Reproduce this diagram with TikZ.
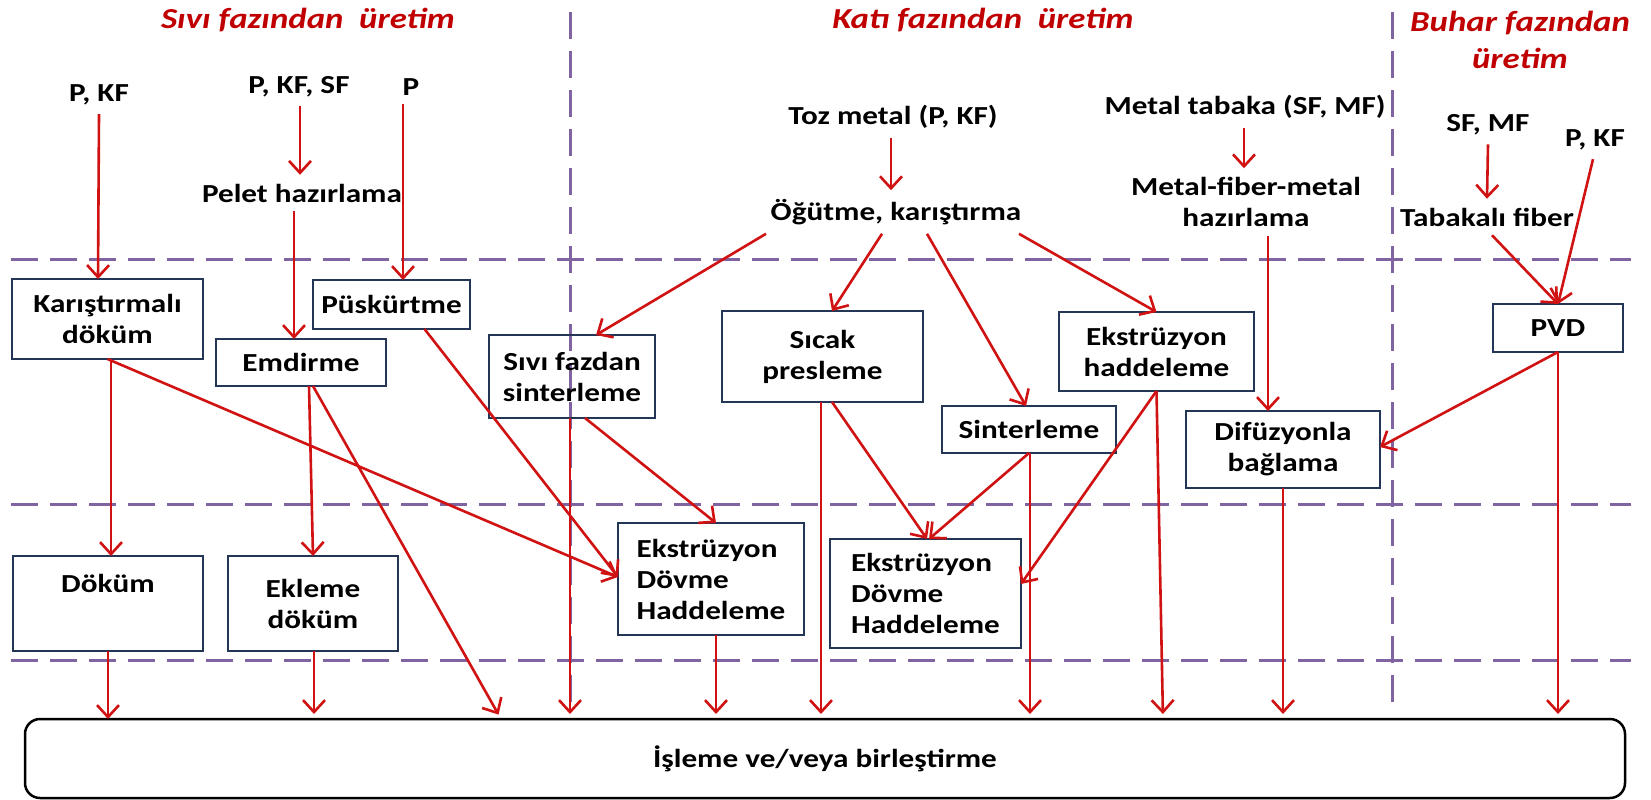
\documentclass[tikz,border=0pt]{standalone}
\usepackage{fontspec}
\setmainfont{Carlito}[FakeStretch=1.2]
\usetikzlibrary{arrows.meta, positioning}

\definecolor{arrred}{RGB}{208,18,18}
\definecolor{titred}{RGB}{192,0,0}
\definecolor{boxblue}{RGB}{36,54,86}
\definecolor{phasepurple}{RGB}{128,100,162}

\tikzset{
	lbl/.style={font=\fontsize{26}{31}\selectfont\bfseries, align=center, inner sep=3pt, outer sep=6pt},
	box/.style={lbl, draw=boxblue, line width=2.8pt, inner sep=4pt, outer sep=0pt},
	phasetitle/.style={font=\fontsize{29}{37}\selectfont\bfseries\itshape, text=titred, align=center},
	arr/.style={draw=arrred, line width=2.6pt, -{Straight Barb[length=12pt,width=22pt]}},
	toisl/.style={shorten >=5pt},
	phaseline/.style={draw=phasepurple, line width=3pt, dash pattern=on 27pt off 12pt},
}

\begin{document}
\begin{tikzpicture}[x=1pt, y=-1pt]
		
		\useasboundingbox (0,0) rectangle (1651,800);
		
		% phase separators
		\draw[phaseline] (11,259) -- (1631,259);
		\draw[phaseline] (11,504) -- (1631,504);
		\draw[phaseline] (11,660) -- (1631,660);
		\draw[phaseline] (570,12) -- (570,714);
		\draw[phaseline] (1392,12) -- (1392,714);
		
		\node[phasetitle] (tsivi) at (308,20) {Sıvı fazından\ \ üretim};
		\node[phasetitle] (tkati) at (983,20) {Katı fazından\ \ üretim};
		\node[phasetitle] (tbuhar) at (1520,40) {Buhar fazından\\üretim};
		
		% inputs
		\node[lbl] (pk1) at (99,95) {P, KF};
		\node[lbl] (pksf) at (299,87) {P, KF, SF};
		\node[lbl] (p2) at (411,87) {P};
		\node[lbl] (pelet) at (302,193) {Pelet hazırlama};
		\node[lbl] (toz) at (893,117) {Toz metal (P, KF)};
		\node[lbl] (ogut) at (896,212) {Öğütme, karıştırma};
		\node[lbl] (tabaka) at (1245,107) {Metal tabaka (SF, MF)};
		\node[lbl] (mfm) at (1246,202) {Metal-fiber-metal\\hazırlama};
		\node[lbl] (sfmf) at (1488,125) {SF, MF};
		\node[lbl] (pk3) at (1595,140) {P, KF};
		\node[lbl] (tabfib) at (1487,217) {Tabakalı fiber};
		
		% processes
		\node[box, minimum width=191, minimum height=80] (karis) at (107.5,319) {Karıştırmalı\\döküm};
		\node[box, minimum width=170, minimum height=47] (emdir) at (301,362.5) {Emdirme};
		\node[box, minimum width=157, minimum height=49] (puskur) at (391.5,304.5) {Püskürtme};
		\node[box, minimum width=166, minimum height=83] (sivisint) at (572,376.5) {Sıvı fazdan\\sinterleme};
		\node[box, minimum width=201, minimum height=91] (sicak) at (822.5,356.5) {Sıcak\\presleme};
		\node[box, minimum width=195, minimum height=79] (ekshad) at (1156.5,351.5) {Ekstrüzyon\\haddeleme};
		\node[box, minimum width=174, minimum height=47] (sinter) at (1029,429.5) {Sinterleme};
		\node[box, minimum width=194, minimum height=77] (difuz) at (1283,449.5) {Difüzyonla\\bağlama};
		\node[box, minimum width=130, minimum height=48] (pvd) at (1558,328) {PVD};
		\node[box, minimum width=190, minimum height=95] (dokum) at (108,603.5) {Döküm\\\strut};
		\node[box, minimum width=170, minimum height=95] (ekleme) at (313,603.5) {Ekleme\\döküm};
		\node[box, align=left, minimum width=186, minimum height=112] (edha) at (711,579) {Ekstrüzyon\\Dövme\\Haddeleme};
		\node[box, align=left, minimum width=191, minimum height=109] (edhb) at (925.5,593.5) {Ekstrüzyon\\Dövme\\Haddeleme};
		\node[lbl, draw, line width=2.5pt, rounded corners=15pt, outer sep=0pt, minimum width=1600, minimum height=79] (isl) at (825,758.5) {İşleme ve/veya birleştirme};
		
		\path[every edge/.style={arr}]
		(pk1.south) edge ([xshift=-9.5]karis.north)
		([xshift=1]pksf.south) edge ([xshift=-2]pelet.north)
		([xshift=-8]pelet.south) edge ([xshift=-7]emdir.north)
		([xshift=-8]p2.south) edge ([xshift=11.5]puskur.north)
		([xshift=-2]toz.south) edge ([xshift=-5]ogut.north)
		([xshift=-1]tabaka.south) edge ([xshift=-2]mfm.north)
		(sfmf.south) edge (tabfib.north)
		([xshift=5]tabfib.south) edge (pvd.north)
		([xshift=-2]pk3.south) edge (pvd.north)
		% solid phase
		([xshift=-130]ogut.south) edge ([xshift=24]sivisint.north)
		([xshift=-14]ogut.south) edge ([xshift=9.5]sicak.north)
		([xshift=31]ogut.south) edge ([xshift=-3]sinter.north)
		([xshift=123]ogut.south) edge (ekshad.north)
		([xshift=22]mfm.south) edge ([xshift=-15]difuz.north)
		(pvd.south) edge ([yshift=2.5]difuz.east)
		(pvd.south) edge[toisl] (pvd.south |- isl.north)
		([xshift=13]sivisint.south) edge ([xshift=5]edha.north)
		([xshift=-2]sivisint.south) edge[toisl] ([xshift=-2]sivisint.south |- isl.north)
		([xshift=9.5]sicak.south) edge ([xshift=1.5]edhb.north)
		([xshift=-1.5]sicak.south) edge[toisl] ([xshift=-1.5]sicak.south |- isl.north)
		(sinter.south) edge ([xshift=3.5]edhb.north)
		([xshift=1]sinter.south) edge[toisl] ([xshift=1]sinter.south |- isl.north)
		(ekshad.south) edge ([yshift=9.5]edhb.east)
		(ekshad.south) edge[toisl] ([xshift=6.5]ekshad.south |- isl.north)
		(difuz.south) edge[toisl] (difuz.south |- isl.north)
		% liquid phase
		([xshift=3.5]karis.south) edge ([xshift=3]dokum.north)
		(karis.south) edge ([yshift=2]edha.west)
		([xshift=8]emdir.south) edge (ekleme.north)
		([xshift=12]emdir.south) edge[toisl] ([xshift=-324]isl.north)
		([xshift=33]puskur.south) edge ([yshift=2]edha.west)
		(dokum.south) edge (dokum.south |- isl.north)
		([xshift=1]ekleme.south) edge[toisl] ([xshift=1]ekleme.south |- isl.north)
		([xshift=5]edha.south) edge[toisl] ([xshift=5]edha.south |- isl.north);
		
\end{tikzpicture}
\end{document}
